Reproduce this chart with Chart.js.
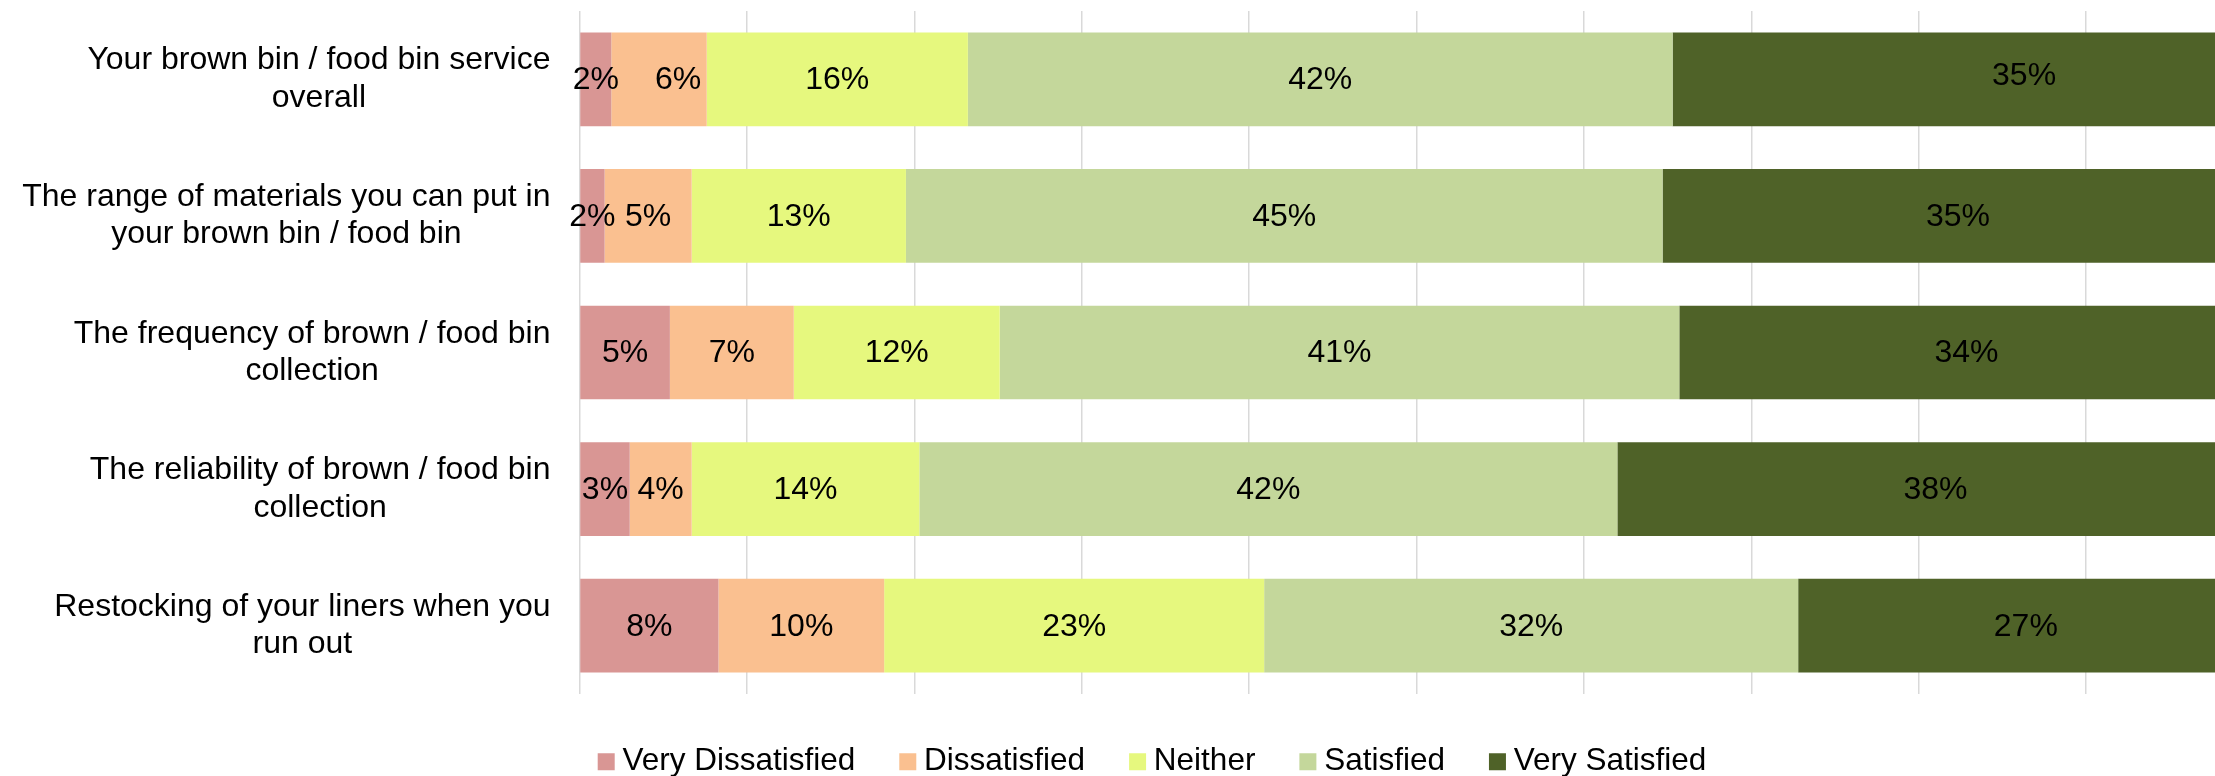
<!DOCTYPE html>
<html><head><meta charset="utf-8">
<script src="https://cdn.jsdelivr.net/npm/chart.js@4.4.1/dist/chart.umd.min.js"></script>
<style>
html,body{margin:0;padding:0;background:#fff;overflow:hidden;width:2215px;height:776px;}
#wrap{position:absolute;left:0;top:0;width:2300px;height:776px;}
</style></head><body>
<div id="wrap"><canvas id="c"></canvas></div>
<script>
// ---- data ----
const categories = [
  ['Your brown bin / food bin service', 'overall'],
  ['The range of materials you can put in', 'your brown bin / food bin'],
  ['The frequency of brown / food bin', 'collection'],
  ['The reliability of brown / food bin', 'collection'],
  ['Restocking of your liners when you', 'run out']
];
const seriesNames = ['Very Dissatisfied', 'Dissatisfied', 'Neither', 'Satisfied', 'Very Satisfied'];
const veryDissatisfied = [1.9, 1.5, 5.4, 3.0, 8.3];
const dissatisfied     = [5.7, 5.2, 7.4, 3.7, 9.9];
const neither          = [15.6, 12.8, 12.3, 13.6, 22.7];
const satisfied        = [42.1, 45.2, 40.6, 41.7, 31.9];
const verySatisfied    = [34.7, 35.3, 34.3, 38.0, 27.2];
const xTickValues = [0, 10, 20, 30, 40, 50, 60, 70, 80, 90, 100];

// ---- styling ----
const seriesColors = ['#D99694', '#FAC090', '#E6F87E', '#C4D79B', '#4F6228'];
const FONT = '"Liberation Sans", Arial, sans-serif';
const FS = 32;
const LEGEND_FS = 31.5;
// manually moved data labels in the original (dataset index, category index, dx, dy)
const labelNudges = [[1, 0, 19, 0], [4, 0, 61, -4]];

const seriesValues = [veryDissatisfied, dissatisfied, neither, satisfied, verySatisfied];

const datasets = seriesNames.map((name, i) => ({
  label: name,
  data: seriesValues[i],
  backgroundColor: seriesColors[i],
  borderWidth: 0,
  barPercentage: 0.686,
  categoryPercentage: 1.0
}));

const barLabels = {
  id: 'barLabels',
  afterDatasetsDraw(chart) {
    const ctx = chart.ctx;
    ctx.save();
    ctx.font = FS + 'px ' + FONT;
    ctx.fillStyle = '#000';
    ctx.textAlign = 'center';
    ctx.textBaseline = 'middle';
    chart.data.datasets.forEach((ds, di) => {
      const meta = chart.getDatasetMeta(di);
      meta.data.forEach((el, i) => {
        const p = el.getCenterPoint();
        let dx = 0, dy = 0;
        labelNudges.forEach(n => { if (n[0] === di && n[1] === i) { dx = n[2]; dy = n[3]; } });
        ctx.fillText(Math.round(ds.data[i]) + '%', p.x + dx, p.y + 1 + dy);
      });
    });
    ctx.restore();
  }
};

const catLabels = {
  id: 'catLabels',
  afterDraw(chart) {
    const ctx = chart.ctx;
    const ys = chart.scales.y;
    ctx.save();
    ctx.font = FS + 'px ' + FONT;
    ctx.fillStyle = '#000';
    ctx.textAlign = 'center';
    ctx.textBaseline = 'middle';
    const right = chart.chartArea.left - 29;
    categories.forEach((lines, i) => {
      const cy = ys.getPixelForValue(i);
      const w = Math.max(...lines.map(l => ctx.measureText(l).width));
      const cx = right - w / 2;
      lines.forEach((l, j) => {
        ctx.fillText(l, cx, cy + (j - (lines.length - 1) / 2) * 37.3);
      });
    });
    ctx.restore();
  }
};

new Chart(document.getElementById('c'), {
  type: 'bar',
  data: { labels: categories.map(c => c.join(' ')), datasets },
  options: {
    indexAxis: 'y',
    responsive: true,
    maintainAspectRatio: false,
    animation: false,
    layout: { padding: { left: 58.5, right: 46.5, top: 11, bottom: -11.5 } },
    scales: {
      x: {
        stacked: true,
        min: 0, max: 100,
        afterBuildTicks: s => { s.ticks = xTickValues.map(v => ({ value: v })); },
        ticks: { display: false },
        grid: { color: '#D9D9D9', lineWidth: 1.5, drawTicks: false },
        border: { display: false },
        afterFit: s => { s.height = 0; }
      },
      y: {
        stacked: true,
        ticks: { display: false },
        grid: { display: false, drawTicks: false },
        border: { display: false },
        afterFit: s => { s.width = 521; }
      }
    },
    plugins: {
      legend: {
        position: 'bottom',
        labels: {
          font: { family: FONT, size: LEGEND_FS },
          color: '#000',
          usePointStyle: true,
          pointStyle: 'rect',
          boxWidth: 1,
          boxHeight: 17,
          padding: 52
        }
      },
      tooltip: { enabled: false }
    }
  },
  plugins: [barLabels, catLabels]
});
</script>
</body></html>
